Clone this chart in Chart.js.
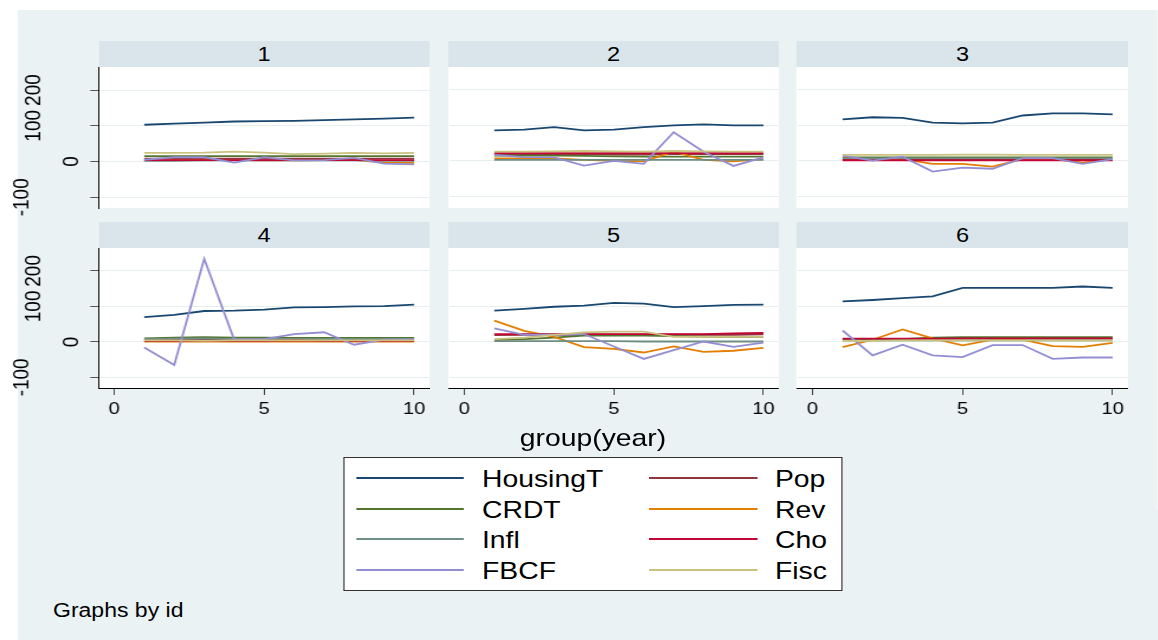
<!DOCTYPE html>
<html>
<head>
<meta charset="utf-8">
<script src="https://cdn.jsdelivr.net/npm/chart.js@4/dist/chart.umd.min.js"></script>
<style>
  html, body { margin: 0; padding: 0; background: #fff; }
  body { width: 1158px; height: 640px; overflow: hidden; position: relative; font-family: "Liberation Sans", Arial, sans-serif; color: #000; }
  #stage { position: absolute; left: 0; top: 0; height: 640px; transform-origin: 0 0; }
  #stage div { position: absolute; }
  .strip { background: #d9e5eb; text-align: center; font-size: 20px; line-height: 26px; }
  .txt { white-space: nowrap; }
</style>
</head>
<body>
<div id="stage"></div>
<script>
/* x values: group(year) */
const years = [1, 2, 3, 4, 5, 6, 7, 8, 9, 10];
const panelIds = ["1", "2", "3", "4", "5", "6"];
const xTicks = [0, 5, 10];
const yTicks = [-100, 0, 100, 200];

/* one row per panel (id 1..6) */
const HousingT = [
  [103, 106, 109, 112, 113, 114, 116, 118, 120, 123],
  [86, 88, 95, 86, 88, 95, 100, 103, 100, 100],
  [117, 123, 121, 108, 106, 108, 128, 134, 134, 131],
  [70, 76, 87, 88, 91, 97, 98, 100, 101, 105],
  [88, 93, 99, 102, 110, 108, 98, 101, 104, 105],
  [114, 118, 123, 128, 152, 152, 152, 152, 156, 152]
];
const Pop = [
  [8, 8, 8, 8, 8, 8, 8, 8, 8, 8],
  [18, 18, 19, 19, 18, 18, 19, 19, 19, 19],
  [4, 4, 4, 4, 4, 4, 4, 4, 4, 4],
  [6, 6, 6, 5, 5, 5, 5, 5, 5, 5],
  [19, 20, 20, 20, 20, 20, 20, 20, 20, 21],
  [8, 8, 8, 9, 9, 9, 9, 9, 9, 9]
];
const CRDT = [
  [15, 15, 15, 15, 15, 15, 15, 15, 15, 15],
  [15, 15, 15, 14, 13, 12, 12, 12, 12, 12],
  [10, 10, 10, 10, 10, 10, 10, 10, 10, 10],
  [10, 12, 13, 12, 12, 11, 11, 11, 11, 11],
  [5, 8, 12, 18, 18, 18, 16, 15, 14, 14],
  [5, 6, 8, 12, 13, 13, 13, 13, 13, 13]
];
const Rev = [
  [3, 4, 5, 4, 3, 3, 4, 5, -3, -4],
  [7, 7, 7, 3, 0, -1, 26, 3, -1, 5],
  [8, 5, 5, -8, -8, -16, 5, 5, -5, 5],
  [1, 1, 1, 1, 1, 1, 1, 1, 1, 1],
  [60, 31, 14, -15, -20, -30, -13, -28, -25, -17],
  [-15, 6, 35, 10, -10, 6, 6, -12, -14, -3]
];
const Infl = [
  [2, 2, 3, 3, 3, 3, 3, 3, 2, 2],
  [3, 3, 3, 3, 3, 3, 3, 3, 3, 3],
  [7, 7, 7, 7, 7, 7, 7, 7, 7, 7],
  [8, 9, 10, 8, 8, 8, 8, 8, 8, 8],
  [2, 2, 2, 2, 2, 1, 1, 1, 1, 1],
  [4, 4, 4, 4, 4, 4, 4, 4, 4, 4]
];
const Cho = [
  [4, 4, 4, 4, 4, 4, 4, 4, 4, 4],
  [22, 22, 22, 22, 22, 22, 22, 22, 22, 22],
  [2, 2, 2, 2, 2, 2, 2, 2, 2, 2],
  [3, 3, 3, 3, 3, 4, 3, 3, 3, 3],
  [22, 22, 22, 22, 22, 22, 22, 22, 24, 25],
  [9, 9, 9, 9, 10, 10, 10, 10, 10, 10]
];
const FBCF = [
  [5, 12, 12, -3, 12, 3, 4, 10, -6, -8],
  [17, 11, 10, -13, 0, -8, 81, 26, -14, 10],
  [15, 1, 12, -30, -19, -22, 8, 8, -8, 5],
  [-16, -65, 234, 6, 8, 22, 27, -8, 6, 7],
  [38, 20, 20, 22, -13, -48, -23, 1, -14, -2],
  [32, -38, -8, -38, -43, -9, -9, -48, -44, -44]
];
const Fisc = [
  [24, 24, 25, 28, 25, 21, 22, 24, 23, 24],
  [26, 26, 27, 28, 27, 26, 28, 27, 26, 26],
  [17, 17, 17, 17, 18, 18, 17, 17, 17, 17],
  [4, 4, 3, 4, 4, 4, 4, 4, 4, 4],
  [8, 12, 20, 27, 29, 29, 14, 14, 14, 14],
  [3, 3, 4, 4, 4, 4, 4, 4, 4, 4]
];

const seriesNames = ["HousingT", "Pop", "CRDT", "Rev", "Infl", "Cho", "FBCF", "Fisc"];
const seriesData = [HousingT, Pop, CRDT, Rev, Infl, Cho, FBCF, Fisc];
const seriesColors = ["#1a476f", "#90353b", "#55752f", "#e37e00", "#6e8e84", "#c10534", "#938dd2", "#cac27e"];

/* horizontal stretch of the whole picture (text looks wide in the original) */
const S = 1.18;
const FONT = '"Liberation Sans", Arial, sans-serif';

const stage = document.getElementById("stage");
stage.style.width = (1158 / S) + "px";
stage.style.transform = "scaleX(" + S + ")";

function place(el, x, y, w, h) {
  el.style.left = (x / S) + "px";
  el.style.top = y + "px";
  if (w != null) el.style.width = (w / S) + "px";
  if (h != null) el.style.height = h + "px";
  stage.appendChild(el);
  return el;
}

function textAt(str, x, y, size, align) {
  const d = document.createElement("div");
  d.className = "txt";
  d.textContent = str;
  d.style.fontSize = size + "px";
  d.style.lineHeight = size + "px";
  place(d, x, y - size / 2);
  if (align === "center") d.style.transform = "translateX(-50%)";
  return d;
}

/* background */
const bg = document.createElement("div");
bg.style.background = "#eaf2f3";
place(bg, 18, 10, 1140, 630);

/* facet geometry */
const colLeft = [99, 448, 797];
const colRight = [429, 779, 1128];
const stripTop = [41, 222];
const plotTop = [67, 248];
const plotBottom = [208, 388];

/* rotated y tick labels, staggered like the original */
const rotatedYLabels = {
  id: "yLabels",
  afterDraw(chart, args, opts) {
    if (!opts.show) return;
    const scale = chart.scales.y;
    const ctx = chart.ctx;
    ctx.save();
    ctx.font = "19px " + FONT;
    ctx.fillStyle = "#000";
    ctx.textAlign = "center";
    ctx.textBaseline = "middle";
    scale.ticks.forEach(t => {
      const label = String(t.value);
      const w = ctx.measureText(label).width;
      const cx = scale.right - 6.7 - 1.53 * w;
      const cy = scale.getPixelForValue(t.value);
      ctx.save();
      ctx.translate(cx, cy);
      ctx.rotate(-Math.PI / 2);
      ctx.fillText(label, 0, 0);
      ctx.restore();
    });
    ctx.restore();
  }
};

function makePanel(r, c) {
  const idx = r * 3 + c;

  const strip = document.createElement("div");
  strip.className = "strip";
  strip.textContent = panelIds[idx];
  place(strip, colLeft[c], stripTop[r], colRight[c] - colLeft[c], plotTop[r] - stripTop[r]);

  const left = c === 0 ? 0 : colLeft[c];
  const extraBottom = r === 0 && c === 0 ? 14 : 0;
  const axisH = r === 1 ? 37 : 0;
  const wrap = document.createElement("div");
  place(wrap, left, plotTop[r], colRight[c] - left, plotBottom[r] - plotTop[r] + axisH + extraBottom);
  const canvas = document.createElement("canvas");
  wrap.appendChild(canvas);

  new Chart(canvas, {
    type: "line",
    data: {
      datasets: seriesNames.map((name, i) => ({
        label: name,
        data: years.map((x, k) => ({ x, y: seriesData[i][idx][k] })),
        borderColor: seriesColors[i],
        borderWidth: 1.8,
        pointRadius: 0,
        tension: 0,
        fill: false,
        order: seriesNames.length - i
      }))
    },
    options: {
      animation: false,
      responsive: true,
      maintainAspectRatio: false,
      layout: { padding: { left: 0, right: 0, top: 0, bottom: extraBottom } },
      plugins: {
        legend: { display: false },
        tooltip: { enabled: false },
        yLabels: { show: c === 0 }
      },
      scales: {
        x: {
          type: "linear",
          min: -0.5,
          max: 10.5,
          display: r === 1,
          afterBuildTicks: s => { s.ticks = xTicks.map(v => ({ value: v })); },
          ticks: { font: { size: 17, family: FONT }, color: "#000", padding: 4, maxRotation: 0, autoSkip: false },
          grid: { drawOnChartArea: false, drawTicks: true, tickLength: 7, tickColor: "#444", tickWidth: 1 },
          border: { display: true, color: "#000", width: 1 },
          afterFit: s => { s.height = axisH; }
        },
        y: {
          min: -130,
          max: 262,
          afterBuildTicks: s => { s.ticks = yTicks.map(v => ({ value: v })); },
          ticks: { display: false },
          grid: {
            color: "#e6eef0",
            lineWidth: 1,
            drawTicks: c === 0,
            tickLength: 9 / S,
            tickColor: "#555",
            tickWidth: 1
          },
          border: { display: c === 0, color: "#000", width: 1 },
          afterFit: s => { s.width = c === 0 ? 99 / S : 0; }
        }
      }
    },
    plugins: [rotatedYLabels]
  });
}

/* plot area white boxes behind the canvases */
for (let r = 0; r < 2; r++) {
  for (let c = 0; c < 3; c++) {
    const pa = document.createElement("div");
    pa.style.background = "#fff";
    place(pa, colLeft[c], plotTop[r], colRight[c] - colLeft[c], plotBottom[r] - plotTop[r]);
  }
}
for (let r = 0; r < 2; r++) {
  for (let c = 0; c < 3; c++) makePanel(r, c);
}

/* x axis title */
textAt("group(year)", 593, 438, 24, "center");

/* legend */
const box = document.createElement("div");
box.style.background = "#fff";
box.style.border = "1px solid #333";
box.style.boxSizing = "border-box";
place(box, 343, 457, 499, 134);
const legendRows = [479, 510, 540, 571];
seriesNames.forEach((name, i) => {
  const col = i % 2;
  const row = Math.floor(i / 2);
  const ln = document.createElement("div");
  ln.style.background = seriesColors[i];
  place(ln, col === 0 ? 356 : 649, legendRows[row] - 2, 108, 2);
  textAt(name, col === 0 ? 482 : 775, legendRows[row], 24, "left");
});

/* note */
textAt("Graphs by id", 53, 611, 19.5, "left");
</script>
</body>
</html>
